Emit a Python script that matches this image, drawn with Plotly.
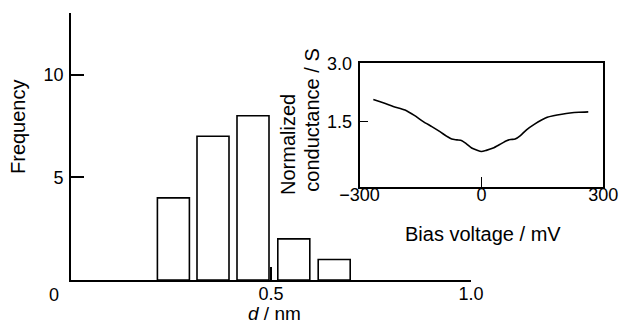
import plotly.graph_objects as go

# Histogram data
d_centers = [0.256, 0.355, 0.455, 0.557, 0.658]
frequency = [4, 7, 8, 2, 1]
bar_width = 0.08

# Inset data: normalized conductance vs bias voltage
bias_mv = [-266, -240, -217, -188, -165, -143, -122, -102, -85, -73, -60, -48, -36, -24, -12, 0,
           12, 29, 45, 62, 72, 83, 96, 111, 130, 148, 162, 177, 198, 218, 240, 263]
conductance = [2.07, 1.98, 1.89, 1.80, 1.66, 1.50, 1.37, 1.24, 1.12, 1.05, 1.03, 1.01, 0.92, 0.82, 0.77, 0.73,
               0.76, 0.82, 0.91, 1.01, 1.04, 1.05, 1.14, 1.29, 1.43, 1.54, 1.61, 1.65, 1.69, 1.72, 1.74, 1.75]

main_x_ticks = [0.5, 1.0]
main_x_ticktext = ["0.5", "1.0"]
main_y_ticks = [5, 10]
main_y_ticktext = ["5", "10"]
inset_x_ticks = [-300, 0, 300]
inset_x_ticktext = ["\u2212300", "0", "300"]
inset_y_ticks = [1.5, 3.0]
inset_y_ticktext = ["1.5", "3.0"]

W, H = 620, 326
FONT = "Liberation Sans, Arial, sans-serif"
TICK = 18
TITLE = 20


def px(x):
    return x / W


def py(y):
    return 1 - y / H


fig = go.Figure()
fig.add_trace(go.Bar(
    x=d_centers, y=frequency, width=bar_width,
    marker=dict(color="white", line=dict(color="black", width=1.6)),
    xaxis="x", yaxis="y", showlegend=False,
))
fig.add_trace(go.Scatter(
    x=bias_mv, y=conductance, mode="lines",
    line=dict(color="black", width=1.6, shape="spline", smoothing=0.6),
    xaxis="x2", yaxis="y2", showlegend=False,
))

axis_common = dict(showgrid=False, zeroline=False, showline=True, linecolor="black",
                   linewidth=1.6, ticks="inside", tickcolor="black", automargin=False,
                   tickfont=dict(family=FONT, size=TICK, color="black"))

fig.update_layout(
    width=W, height=H,
    margin=dict(l=0, r=0, t=0, b=0, autoexpand=False),
    paper_bgcolor="white", plot_bgcolor="rgba(0,0,0,0)",
    font=dict(family=FONT, size=TICK, color="black"),
    xaxis=dict(domain=[px(71), px(471)], range=[0, 1.0], tickvals=main_x_ticks,
               ticktext=main_x_ticktext, ticklen=13, tickwidth=1.6,
               anchor="y", ticklabelstandoff=-3, **axis_common),
    yaxis=dict(domain=[py(280), py(13)], range=[0, 13], tickvals=main_y_ticks,
               ticktext=main_y_ticktext, ticklen=13, tickwidth=1.6,
               anchor="x", ticklabelstandoff=2, **axis_common),
    xaxis2=dict(domain=[px(359.5), px(603.3)], range=[-300, 300], tickvals=inset_x_ticks,
                ticktext=inset_x_ticktext, ticklen=10, tickwidth=1.4, mirror=True,
                anchor="y2", ticklabelstandoff=-9, **axis_common),
    yaxis2=dict(domain=[py(186.5), py(63.3)], range=[-0.17, 3.0], tickvals=inset_y_ticks,
                ticktext=inset_y_ticktext, ticklen=9, tickwidth=1.4, mirror=True,
                anchor="x2", ticklabelstandoff=2, **axis_common),
)

ann_font = dict(family=FONT, size=TITLE, color="black")
annotations = [
    dict(text="Frequency", x=px(18), y=py(127), textangle=-90),
    dict(text="<i>d</i> / nm", x=px(274), y=0.0, yanchor="bottom",
         font=dict(family=FONT, size=19, color="black")),
    dict(text="0", x=px(54), y=py(295), font=dict(family=FONT, size=TICK, color="black")),
    dict(text="Bias voltage / mV", x=px(482.5), y=py(234)),
    dict(text="Normalized", x=px(288), y=py(145), textangle=-90),
    dict(text="conductance / S", x=px(311.7), y=py(120), textangle=-90),
]
for a in annotations:
    a.setdefault("font", ann_font)
    a.setdefault("yanchor", "middle")
    fig.add_annotation(xref="paper", yref="paper", xanchor="center",
                       showarrow=False, **a)

fig.write_html("out.html")
